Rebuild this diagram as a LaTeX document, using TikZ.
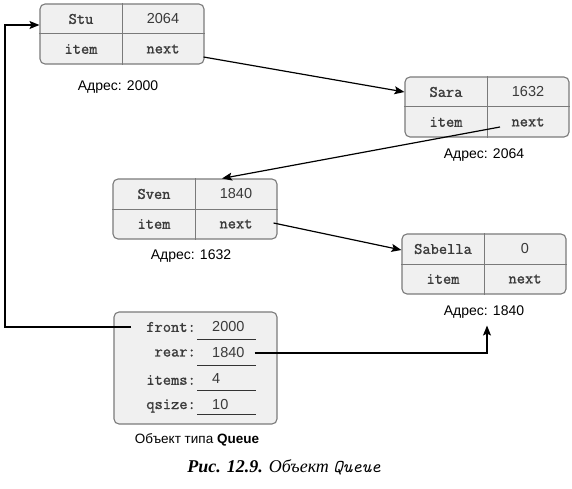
\documentclass[tikz,border=0pt]{standalone}
\usepackage{fontspec}
\setmainfont{Liberation Serif}
\setsansfont{Liberation Sans}
\newfontfamily\cellfont{Latin Modern Mono}[FakeBold=1.3]
\usetikzlibrary{arrows.meta,calc}
\definecolor{boxgray}{HTML}{7A7A7A}
\definecolor{boxfill}{HTML}{F0F0F0}
\definecolor{textgray}{HTML}{3A3A3A}
\begin{document}
\begin{tikzpicture}[x=1pt,y=-1pt,
  recbox/.style={draw=boxgray, fill=boxfill, line width=1.1pt, rounded corners=5pt,
    minimum width=164pt, minimum height=60pt, inner sep=0pt},
  qbox/.style={draw=boxgray, fill=boxfill, line width=1.1pt, rounded corners=5pt,
    minimum width=163pt, minimum height=112pt, inner sep=0pt},
  divider/.style={draw=boxgray, line width=1pt},
  mono/.style={font=\fontsize{16}{18}\selectfont\cellfont, text=textgray, inner sep=0pt},
  num/.style={font=\fontsize{14.5}{16}\selectfont\sffamily, text=textgray, inner sep=0pt},
  addr/.style={font=\fontsize{14}{16}\selectfont\sffamily, inner sep=0pt},
  uline/.style={draw=black!80, line width=1pt},
  conn/.style={line width=1.2pt, -{Stealth[length=10pt,width=8pt,inset=2pt]}},
]
\useasboundingbox (0,0) rectangle (572,489);

% ---- record Stu
\node[recbox] (stu) at (122,34) {};
\draw[divider] (stu.north) -- (stu.south);
\draw[divider] (stu.west) -- (stu.east);
\node[mono] (stuname) at (81,19) {Stu};
\node[num]  (stuval)  at (163,19) {2064};
\node[mono] (stuitem) at (81,49) {item};
\node[mono] (stunext) at (163,49) {next};
\node[addr] (addrstu) at (118,87) {Адрес: 2000};

% ---- record Sara
\node[recbox] (sara) at (487,107) {};
\draw[divider] (sara.north) -- (sara.south);
\draw[divider] (sara.west) -- (sara.east);
\node[mono] (saraname) at (446,92) {Sara};
\node[num]  (saraval)  at (528,92) {1632};
\node[mono] (saraitem) at (446,122) {item};
\node[mono] (saranext) at (528,122) {next};
\node[addr] (addrsara) at (484,155) {Адрес: 2064};

% ---- record Sven
\node[recbox] (sven) at (195,209) {};
\draw[divider] (sven.north) -- (sven.south);
\draw[divider] (sven.west) -- (sven.east);
\node[mono] (svenname) at (154,194) {Sven};
\node[num]  (svenval)  at (236,194) {1840};
\node[mono] (svenitem) at (154,224) {item};
\node[mono] (svennext) at (236,224) {next};
\node[addr] (addrsven) at (191,256) {Адрес: 1632};

% ---- record Sabella
\node[recbox] (sab) at (484,264) {};
\draw[divider] (sab.north) -- (sab.south);
\draw[divider] (sab.west) -- (sab.east);
\node[mono] (sabname) at (443,249) {Sabella};
\node[num]  (sabval)  at (525,249) {0};
\node[mono] (sabitem) at (443,279) {item};
\node[mono] (sabnext) at (525,279) {next};
\node[addr] (addrsab) at (484,312) {Адрес: 1840};

% ---- queue object
\node[qbox] (queue) at (195.5,368) {};
\node[mono, anchor=east] (frontlbl) at (196,327) {front:};
\node[mono, anchor=east] (rearlbl)  at (196,353) {rear:};
\node[mono, anchor=east] (itemslbl) at (196,380) {items:};
\node[mono, anchor=east] (qsizelbl) at (196,406) {qsize:};
\node[num, anchor=west] (frontval) at (212,327) {2000};
\node[num, anchor=west] (rearval)  at (212,353) {1840};
\node[num, anchor=west] (itemsval) at (212,379) {4};
\node[num, anchor=west] (qsizeval) at (212,405) {10};
\draw[uline] (197,339) -- (256,339);
\draw[uline] (197,365) -- (256,365);
\draw[uline] (197,390) -- (256,390);
\draw[uline] (197,414) -- (256,414);
\node[font=\fontsize{13.5}{16}\selectfont\sffamily, inner sep=0pt] (qlabel) at (197,440)
  {Объект типа \textbf{Queue}};

% ---- caption
\node[inner sep=0pt, font=\fontsize{18}{20}\selectfont] (caption) at (284,467)
  {\textbf{\textit{Рис. 12.9.}} \textit{Объект} {\ttfamily\itshape Queue}};

% ---- connectors
\coordinate (frontptr) at ($(frontlbl.west)+(-15,0)$);
\coordinate (railbot) at (5,327);
\coordinate (railtop) at (5,25);
\coordinate (stuptr) at ($(stu.east)+(-1,23)$);
\coordinate (saraptr) at ($(sara.center)+(13,20)$);
\coordinate (svenptr) at ($(sven.east)+(-4,14)$);
\coordinate (rearptr) at ($(rearval.east)+(10,0)$);
\draw[conn] (frontptr) -- (railbot) -- (railtop) -- (railtop -| stu.west);
\draw[conn] (stuptr) -- ([yshift=15pt]sara.west);
\draw[conn] (saraptr) -- ([xshift=27pt]sven.north);
\draw[conn] (svenptr) -- ([yshift=14pt]sab.west);
\draw[conn] (rearptr) -| ([xshift=3pt,yshift=-7pt]addrsab.south);
\end{tikzpicture}
\end{document}
